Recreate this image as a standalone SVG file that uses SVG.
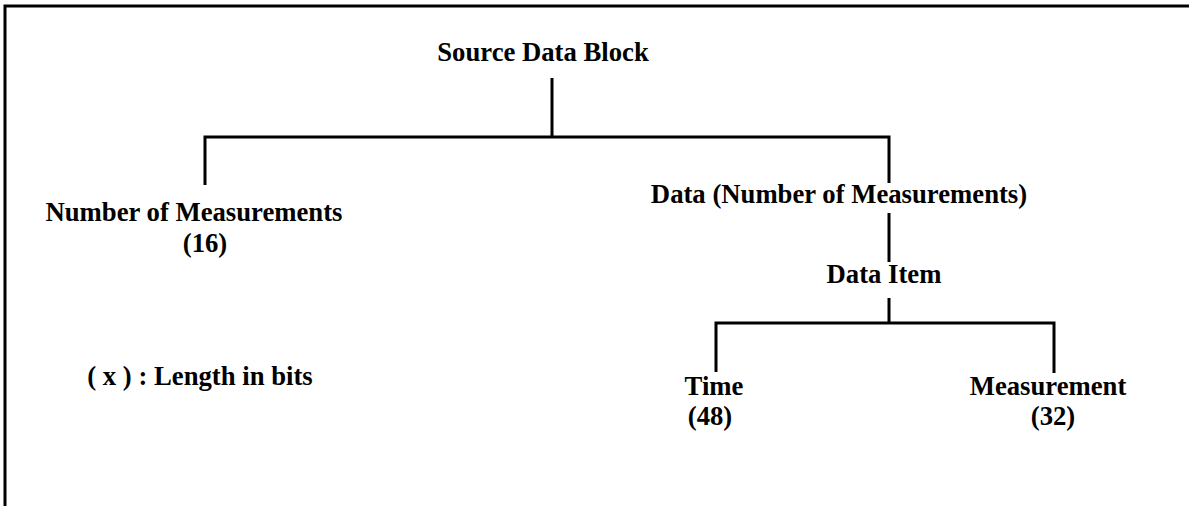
<svg xmlns="http://www.w3.org/2000/svg" width="1193" height="506" viewBox="0 0 1193 506">
<style>
text{font-family:"Liberation Serif","Times New Roman",serif;font-weight:bold;font-size:26.7px;fill:#000}
.ln{stroke:#000;stroke-width:3;fill:none}
.bd{stroke:#000;stroke-width:3;fill:none}
</style>
<rect width="1193" height="506" fill="#fff"/>
<path class="bd" d="M5,506 V6 H1189"/>
<g id="connectors">
<path class="ln" d="M552,78 V137"/>
<path class="ln" d="M205,185 V137 H889 V183"/>
<path class="ln" d="M889,213 V262"/>
<path class="ln" d="M889,298 V323"/>
<path class="ln" d="M716,372 V323 H1054 V373"/>
</g>
<g id="n-source"><text x="543" y="61" text-anchor="middle">Source Data Block</text></g>
<g id="n-number"><text x="194" y="221" text-anchor="middle">Number of Measurements</text><text x="205" y="252" text-anchor="middle">(16)</text></g>
<g id="n-data"><text x="839" y="203" text-anchor="middle">Data (Number of Measurements)</text></g>
<g id="n-item"><text x="884" y="283" text-anchor="middle">Data Item</text></g>
<g id="n-time"><text x="714" y="395" text-anchor="middle">Time</text><text x="710" y="425" text-anchor="middle">(48)</text></g>
<g id="n-meas"><text x="1048" y="395" text-anchor="middle">Measurement</text><text x="1053" y="425" text-anchor="middle">(32)</text></g>
<g id="legend"><text x="200" y="385" text-anchor="middle">( x ) : Length in bits</text></g>
</svg>
